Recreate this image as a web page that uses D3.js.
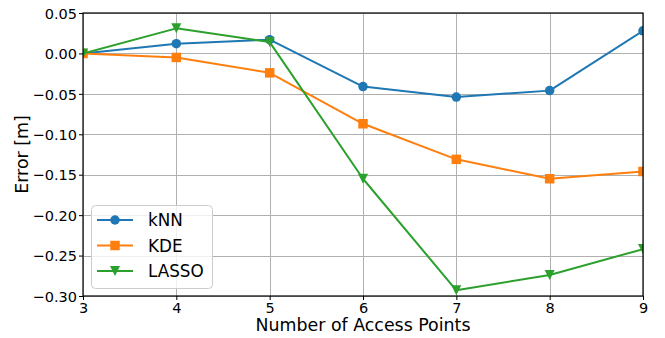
<!DOCTYPE html>
<html>
<head>
<meta charset="utf-8">
<script src="https://cdn.jsdelivr.net/npm/d3@7"></script>
<style>
  html, body { margin: 0; padding: 0; background: #fff; }
  svg { display: block; font-family: "DejaVu Sans", sans-serif; }
</style>
</head>
<body>
<svg id="chart" width="665" height="338"></svg>
<script>
// Number of access points on the x axis
const accessPoints = [3, 4, 5, 6, 7, 8, 9];

// Error per method [m]
const knnError   = [0.000, 0.012, 0.017, -0.041, -0.054, -0.046, 0.028];
const kdeError   = [0.000, -0.005, -0.024, -0.087, -0.131, -0.155, -0.146];
const lassoError = [0.000, 0.031, 0.014, -0.155, -0.293, -0.274, -0.242];

const seriesNames = ["kNN", "KDE", "LASSO"];
const yTicks = [0.05, 0.00, -0.05, -0.10, -0.15, -0.20, -0.25, -0.30];

const series = [
  { name: seriesNames[0], values: knnError,   color: "#1f77b4", marker: "circle" },
  { name: seriesNames[1], values: kdeError,   color: "#ff7f0e", marker: "square" },
  { name: seriesNames[2], values: lassoError, color: "#2ca02c", marker: "triangleDown" }
];

const svg = d3.select("#chart");
const plot = { left: 83, right: 643, top: 13, bottom: 296 };

const x = d3.scaleLinear().domain([3, 9]).range([plot.left, plot.right]);
const y = d3.scaleLinear().domain([-0.30, 0.05]).range([plot.bottom, plot.top]);

const fmt = v => {
  const s = Math.abs(v).toFixed(2);
  return (v < -1e-9 ? "\u2212" : "") + s;
};

// grid
const grid = svg.append("g").attr("stroke", "#b0b0b0").attr("stroke-width", 1);
accessPoints.forEach(v => {
  grid.append("line")
    .attr("x1", Math.round(x(v)) + 0.5).attr("x2", Math.round(x(v)) + 0.5)
    .attr("y1", plot.top).attr("y2", plot.bottom);
});
yTicks.forEach(v => {
  grid.append("line")
    .attr("x1", plot.left).attr("x2", plot.right)
    .attr("y1", Math.round(y(v)) + 0.5).attr("y2", Math.round(y(v)) + 0.5);
});

// clip for data
svg.append("clipPath").attr("id", "plotClip")
  .append("rect")
  .attr("x", plot.left).attr("y", plot.top)
  .attr("width", plot.right - plot.left).attr("height", plot.bottom - plot.top);

const symbolFor = (kind, size) => {
  if (kind === "circle") return d3.symbol(d3.symbolCircle, size * size * Math.PI / 4)();
  if (kind === "square") return d3.symbol(d3.symbolSquare, size * size)();
  // downward triangle centred on the point
  const h = size / 2;
  return `M${-h},${-h}L${h},${-h}L0,${h}Z`;
};

const data = svg.append("g").attr("clip-path", "url(#plotClip)");
const line = d3.line().x((d, i) => x(accessPoints[i])).y(d => y(d));

series.forEach(s => {
  const g = data.append("g");
  g.append("path")
    .attr("d", line(s.values))
    .attr("fill", "none")
    .attr("stroke", s.color)
    .attr("stroke-width", 2)
    .attr("stroke-linejoin", "round");
  g.selectAll("path.mk")
    .data(s.values)
    .join("path")
    .attr("class", "mk")
    .attr("transform", (d, i) => `translate(${x(accessPoints[i])},${y(d)})`)
    .attr("d", symbolFor(s.marker, s.marker === "triangleDown" ? 10 : 9.5))
    .attr("fill", s.color);
});

// axes
const xAxis = d3.axisBottom(x).tickValues(accessPoints).tickFormat(d3.format("d"))
  .tickSize(4).tickPadding(3);
const yAxis = d3.axisLeft(y).tickValues(yTicks).tickFormat(fmt)
  .tickSize(4).tickPadding(2);

const gx = svg.append("g").attr("transform", `translate(0,${plot.bottom})`).call(xAxis);
const gy = svg.append("g").attr("transform", `translate(${plot.left},0)`).call(yAxis);
[gx, gy].forEach(g => {
  g.select(".domain").remove();
  g.selectAll("line").attr("stroke", "#000").attr("stroke-width", 1);
  g.selectAll("text").attr("fill", "#000").attr("font-size", "14.5px")
    .attr("font-family", "DejaVu Sans");
});
gy.selectAll("text").attr("dy", "0.36em");

// frame
svg.append("rect")
  .attr("x", plot.left).attr("y", plot.top)
  .attr("width", plot.right - plot.left).attr("height", plot.bottom - plot.top)
  .attr("fill", "none").attr("stroke", "#000").attr("stroke-width", 1.2);

// axis titles
svg.append("text")
  .attr("x", (plot.left + plot.right) / 2).attr("y", 331)
  .attr("text-anchor", "middle").attr("font-size", "17.4px")
  .text("Number of Access Points");
svg.append("text")
  .attr("transform", `translate(28,${(plot.top + plot.bottom) / 2}) rotate(-90)`)
  .attr("text-anchor", "middle").attr("font-size", "17.4px")
  .text("Error [m]");

// legend
const lg = svg.append("g").attr("transform", "translate(91,205)");
lg.append("rect")
  .attr("x", 0.5).attr("y", 0.5).attr("width", 121).attr("height", 83)
  .attr("rx", 4).attr("ry", 4)
  .attr("fill", "#fff").attr("fill-opacity", 0.8)
  .attr("stroke", "#cccccc").attr("stroke-width", 1);
series.forEach((s, i) => {
  const cy = 15 + i * 25.5;
  lg.append("line")
    .attr("x1", 6).attr("x2", 42).attr("y1", cy).attr("y2", cy)
    .attr("stroke", s.color).attr("stroke-width", 2);
  lg.append("path")
    .attr("transform", `translate(24,${cy})`)
    .attr("d", symbolFor(s.marker, s.marker === "triangleDown" ? 10 : 9.5))
    .attr("fill", s.color);
  lg.append("text")
    .attr("x", 57).attr("y", cy).attr("dy", "0.36em")
    .attr("font-size", "16.8px").attr("fill", "#000")
    .text(s.name);
});
</script>
</body>
</html>
